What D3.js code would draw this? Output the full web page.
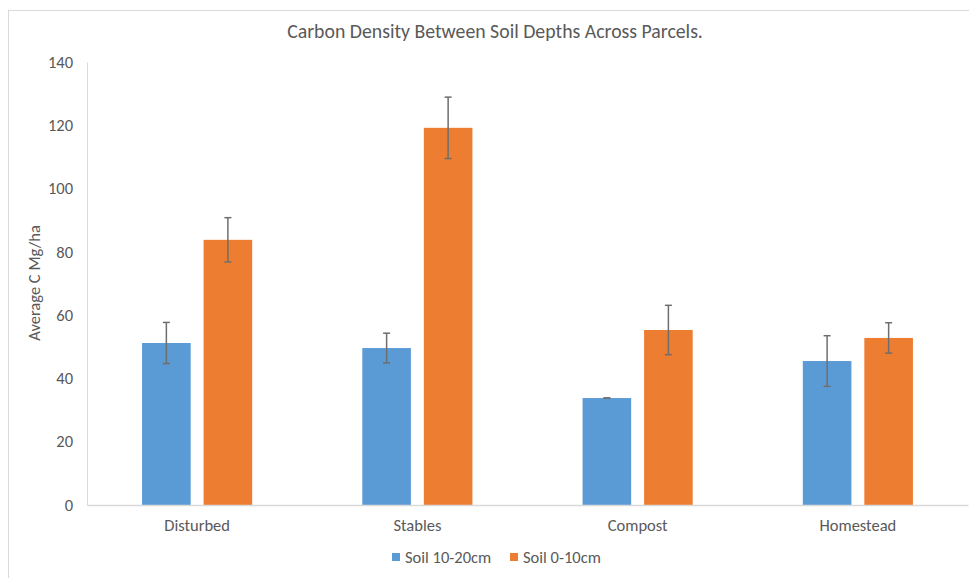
<!DOCTYPE html>
<html><head><meta charset="utf-8">
<script src="https://cdn.jsdelivr.net/npm/d3@7"></script>
<style>body{margin:0;background:#fff;} svg{display:block;}</style>
</head><body>
<script>
const categories = ["Disturbed", "Stables", "Compost", "Homestead"];
const seriesNames = ["Soil 10-20cm", "Soil 0-10cm"];
const soil10_20 = [51.2, 49.6, 33.8, 45.5];
const soil0_10 = [83.8, 119.2, 55.3, 52.8];
const err10_20 = [6.5, 4.7, 0.0, 8.0];
const err0_10 = [7.0, 9.7, 7.8, 4.8];
const yTicks = [0, 20, 40, 60, 80, 100, 120, 140];
const colors = ["#5B9BD5", "#ED7D31"];

(function () {
const W = 969, H = 578;
const font = "Carlito, Lato, 'Open Sans', sans-serif";
const textColor = "#595959";
const fs = 16.5;
const svg = d3.select("body").append("svg").attr("width", W).attr("height", H);

// outer border
svg.append("rect").attr("x", 8.5).attr("y", 10.5).attr("width", W + 10).attr("height", H + 10)
  .attr("fill", "none").attr("stroke", "#d9d9d9").attr("stroke-width", 1);

const mLeft = 87, mRight = 968, mTop = 62, mBottom = 505;
const y = d3.scaleLinear().domain([0, 140]).range([mBottom, mTop]);
const x0 = d3.scaleBand().domain(categories).range([mLeft, mRight]).paddingInner(0.5).paddingOuter(0.25);
const x1 = d3.scaleBand().domain(seriesNames).range([0, x0.bandwidth()]).paddingInner(0.21);

const series = [soil10_20, soil0_10];
const errs = [err10_20, err0_10];
const data = [];
categories.forEach((c, i) => seriesNames.forEach((s, j) => data.push({c, s, j, v: series[j][i], e: errs[j][i]})));

// y axis
const yAxis = d3.axisLeft(y).tickValues(yTicks).tickSize(0).tickPadding(14);
const gy = svg.append("g").attr("transform", `translate(${mLeft},0)`).call(yAxis);
gy.select(".domain").attr("stroke", "#d9d9d9");
gy.selectAll("text").attr("font-family", font).attr("font-size", fs).attr("fill", textColor);

// bars
svg.append("g").selectAll("rect").data(data).join("rect")
  .attr("x", d => x0(d.c) + x1(d.s))
  .attr("y", d => y(d.v))
  .attr("width", x1.bandwidth())
  .attr("height", d => y(0) - y(d.v))
  .attr("fill", d => colors[d.j]);

// x axis baseline
const xAxis = d3.axisBottom(x0).tickSize(0).tickPadding(14);
const gx = svg.append("g").attr("transform", `translate(0,${mBottom})`).call(xAxis);
gx.select(".domain").attr("stroke", "#d9d9d9").attr("stroke-width", 1.5);
gx.selectAll("text").attr("font-family", font).attr("font-size", fs).attr("fill", textColor);

// error bars
const eg = svg.append("g").attr("stroke", "#6e6e6e").attr("stroke-width", 1.5);
data.forEach(d => {
  const cx = x0(d.c) + x1(d.s) + x1.bandwidth() / 2;
  const y1 = y(d.v + d.e), y2 = y(d.v - d.e);
  eg.append("line").attr("x1", cx).attr("x2", cx).attr("y1", y1).attr("y2", y2);
  eg.append("line").attr("x1", cx - 3.5).attr("x2", cx + 3.5).attr("y1", y1).attr("y2", y1);
  eg.append("line").attr("x1", cx - 3.5).attr("x2", cx + 3.5).attr("y1", y2).attr("y2", y2);
});

// title
svg.append("text").attr("x", 495).attr("y", 38).attr("text-anchor", "middle")
  .attr("font-family", font).attr("font-size", 19.8).attr("fill", textColor)
  .text("Carbon Density Between Soil Depths Across Parcels.");

// y axis title
svg.append("text").attr("transform", `translate(40,283) rotate(-90)`).attr("text-anchor", "middle")
  .attr("font-family", font).attr("font-size", fs).attr("fill", textColor)
  .text("Average C Mg/ha");

// legend
const legendX = [392, 510];
const lg = svg.append("g");
seriesNames.forEach((s, j) => {
  lg.append("rect").attr("x", legendX[j]).attr("y", 553).attr("width", 8).attr("height", 8).attr("fill", colors[j]);
  lg.append("text").attr("x", legendX[j] + 13).attr("y", 563)
    .attr("font-family", font).attr("font-size", fs).attr("fill", textColor).text(s);
});
})();
</script>
</body></html>
